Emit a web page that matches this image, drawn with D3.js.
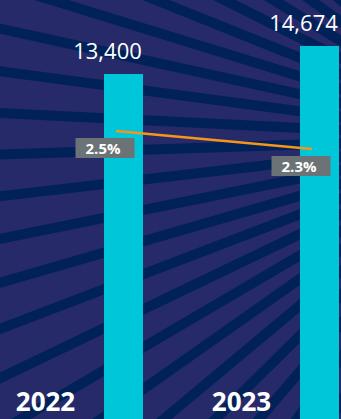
<!DOCTYPE html>
<html>
<head>
<meta charset="utf-8">
<script src="https://cdn.jsdelivr.net/npm/d3@7"></script>
<style>
  html, body { margin: 0; padding: 0; background: #272a69; }
  svg { display: block; }
</style>
</head>
<body>
<div id="chart"></div>
<script>
// Data
const years = ["2022", "2023"];
const totals = [13400, 14674];
const rates = [2.5, 2.3];
const rateLabels = ["2.5%", "2.3%"];

const W = 341, H = 419;

const svg = d3.select("#chart").append("svg")
  .attr("width", W).attr("height", H);

// Backdrop with radiating stripes
svg.append("rect").attr("width", W).attr("height", H).attr("fill", "#272a69");
const cx = 500, cy = 138;
const rayAngles = d3.range(-19, 20).map(k => (1.9 + k * 4.75) * Math.PI / 180);
svg.append("g").selectAll("line").data(rayAngles).join("line")
  .attr("x1", cx).attr("y1", cy)
  .attr("x2", a => cx - 1200 * Math.cos(a))
  .attr("y2", a => cy + 1200 * Math.sin(a))
  .attr("stroke", "#012258")
  .attr("stroke-width", 10);

// Scales
const x = d3.scaleBand().domain(years).range([104, 339])
  .paddingInner(1 - 39 / 196).paddingOuter(0);
const yBar = d3.scaleLinear().domain([0, 14674]).range([368.6, 46]);
const yRate = d3.scaleLinear().domain([0, 3]).range([356, 86]);
const mid = d => x(d) + x.bandwidth() / 2;

// Bars (continue past the bottom edge)
svg.append("g").selectAll("rect").data(years).join("rect")
  .attr("x", d => x(d))
  .attr("width", x.bandwidth())
  .attr("y", (d, i) => yBar(totals[i]))
  .attr("height", (d, i) => H - yBar(totals[i]))
  .attr("fill", "#00c6da");

// Value labels
svg.append("g").selectAll("text").data(years).join("text")
  .attr("x", d => mid(d) - 16)
  .attr("y", (d, i) => yBar(totals[i]) - 15)
  .attr("text-anchor", "middle")
  .attr("font-family", "'Open Sans', sans-serif")
  .attr("font-weight", 400)
  .attr("font-size", 22)
  .attr("fill", "#ffffff")
  .text((d, i) => d3.format(",")(totals[i]));

// Rate line
const line = d3.line()
  .x((d, i) => mid(years[i]) - 7.5)
  .y(d => yRate(d));
svg.append("path").datum(rates)
  .attr("d", line)
  .attr("fill", "none")
  .attr("stroke", "#f7941d")
  .attr("stroke-width", 2.5);

// Rate labels in grey boxes
const rl = svg.append("g").selectAll("g").data(years).join("g")
  .attr("transform", (d, i) => `translate(${mid(d) - 18.5},${yRate(rates[i]) + 7})`);
rl.append("rect")
  .attr("x", -29.5).attr("y", 0)
  .attr("width", 59).attr("height", 20)
  .attr("fill", "#6b7376");
rl.append("text")
  .attr("x", -2).attr("y", 15.5)
  .attr("text-anchor", "middle")
  .attr("font-family", "'Open Sans', sans-serif")
  .attr("font-weight", 700)
  .attr("font-size", 15)
  .attr("fill", "#ffffff")
  .text((d, i) => rateLabels[i]);

// Year labels
svg.append("g").selectAll("text").data(years).join("text")
  .attr("x", d => x(d) - 58.5)
  .attr("y", 411)
  .attr("text-anchor", "middle")
  .attr("font-family", "'Open Sans', sans-serif")
  .attr("font-weight", 700)
  .attr("font-size", 26)
  .attr("fill", "#ffffff")
  .text(d => d);
</script>
</body>
</html>
